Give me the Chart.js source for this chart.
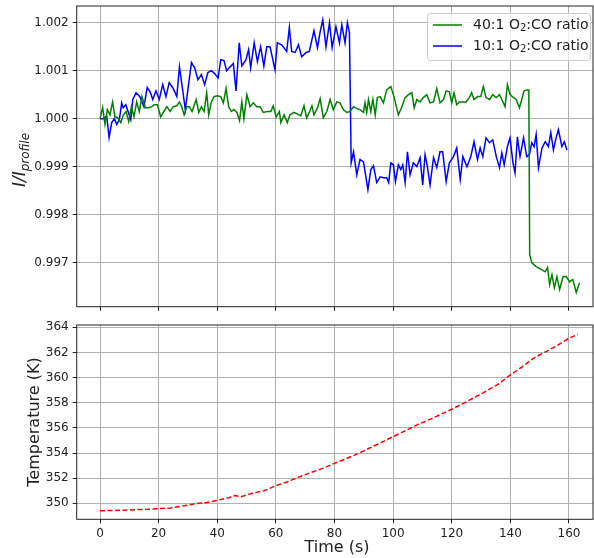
<!DOCTYPE html>
<html>
<head>
<meta charset="utf-8">
<script src="https://cdn.jsdelivr.net/npm/chart.js@4/dist/chart.umd.min.js"></script>
<style>
  body { margin: 0; background: #fff; }
  #wrap { position: relative; width: 594px; height: 558px; }
  canvas { position: absolute; left: 0; }
</style>
</head>
<body>
<div id="wrap">
  <canvas id="top-chart" width="594" height="320" style="top:0"></canvas>
  <canvas id="temp-chart" width="594" height="238" style="top:320px"></canvas>
</div>
<script>
// x ticks shared by both panels
const xTicks = [0, 20, 40, 60, 80, 100, 120, 140, 160];
const ratioTicks = [0.997, 0.998, 0.999, 1.000, 1.001, 1.002];
const tempTicks = [350, 352, 354, 356, 358, 360, 362, 364];

// 40:1 O2:CO ratio (green)
const greenTime = [0, 0.9, 1.7, 2.5, 3.4, 4.3, 5.1, 6, 7.1, 8, 8.9, 9.8, 10.7, 11.6, 12.5, 13.4, 14.3, 15.5, 16.6, 17.7,
  18.4, 19.6, 20.7, 21.8, 22.8, 23.9, 25, 26.2, 27.1, 27.9, 28.7, 29.6, 30.5, 31.4, 32.8, 33.7, 34.6, 35.5, 36.4, 37.1,
  38, 38.9, 40, 41.2, 42.1, 43, 43.9, 44.8, 45.7, 46.7, 47.6, 48.4, 49.1, 50.1, 51.2, 52.3, 53.5, 54.6, 55.7, 57.1,
  58.3, 59.1, 60.1, 61.2, 61.7, 62.8, 63.9, 64.8, 66.2, 67.3, 68.5, 69.6, 70.5, 71.4, 72.3, 73, 74.2, 75.1, 76.2, 77.4,
  78.5, 79.6, 80.8, 81.9, 83, 84.2, 85.3, 86.5, 87.6, 88.7, 89.9, 90.4, 91, 91.6, 92.4, 93.1, 93.9, 94.6, 95.6, 96.7,
  97.8, 99.2, 100.3, 101.8, 103, 104.1, 105.2, 106.4, 107.2, 108.1, 109.2, 110.3, 111.5, 112.6, 113.8, 114.9, 116, 117.2, 118.1, 119.2,
  120, 120.8, 121.7, 122.6, 123.8, 124.9, 126, 126.8, 127.6, 128.8, 129.9, 130.8, 131.7, 132.9, 134, 135.2, 136.3, 137.1, 138.2, 139,
  139.9, 141.1, 142, 143.1, 143.9, 144.7, 145.6, 146.3, 146.6, 147.3, 148.8, 150.8, 151.9, 152.7, 153.4, 154.2, 155, 155.9, 156.8, 158,
  159.1, 160.2, 161.3, 162.5, 163.6];
const greenValues = [1.00000, 1.00023, 0.99988, 1.00019, 1.00008, 1.00035, 1.00004, 1.00002, 0.99992, 1.00008, 1.00015, 0.99994, 1.00025, 1.00004, 1.00035, 1.00015, 1.00046, 1.00023, 1.00023, 1.00025,
  1.00029, 1.00029, 1.00004, 1.00015, 1.00025, 1.00015, 1.00025, 1.00027, 1.00035, 1.00025, 1.00008, 1.00025, 1.00025, 1.00015, 1.00040, 1.00013, 1.00025, 1.00015, 1.00054, 1.00008,
  1.00035, 1.00046, 1.00048, 1.00046, 1.00033, 1.00063, 1.00025, 1.00015, 1.00019, 1.00013, 0.99996, 1.00035, 1.00000, 1.00050, 1.00025, 1.00033, 1.00025, 1.00025, 1.00013, 1.00015,
  1.00015, 1.00027, 1.00004, 1.00015, 0.99992, 1.00008, 0.99992, 1.00008, 1.00013, 1.00010, 1.00006, 1.00027, 1.00002, 1.00013, 1.00027, 1.00008, 1.00023, 1.00042, 1.00002, 1.00015,
  1.00040, 1.00019, 1.00035, 1.00033, 1.00019, 1.00013, 1.00015, 1.00025, 1.00021, 1.00019, 1.00013, 1.00033, 1.00013, 1.00040, 1.00015, 1.00040, 1.00008, 1.00044, 1.00046, 1.00033,
  1.00060, 1.00067, 1.00046, 1.00008, 1.00025, 1.00044, 1.00050, 1.00054, 1.00023, 1.00040, 1.00035, 1.00044, 1.00050, 1.00033, 1.00035, 1.00063, 1.00033, 1.00040, 1.00058, 1.00056,
  1.00033, 1.00054, 1.00029, 1.00035, 1.00035, 1.00035, 1.00044, 1.00054, 1.00040, 1.00046, 1.00046, 1.00067, 1.00044, 1.00040, 1.00050, 1.00044, 1.00050, 1.00040, 1.00025, 1.00071,
  1.00050, 1.00044, 1.00040, 1.00023, 1.00040, 1.00058, 1.00060, 1.00060, 0.99717, 0.99700, 0.99692, 0.99685, 0.99681, 0.99690, 0.99654, 0.99675, 0.99648, 0.99671, 0.99644, 0.99671,
  0.99671, 0.99660, 0.99665, 0.99638, 0.99658];

// 10:1 O2:CO ratio (blue)
const blueTime = [0, 1.1, 2.3, 3.1, 4, 4.9, 5.7, 6.6, 7.4, 7.9, 8.8, 9.7, 10.5, 11.2, 12.3, 13.6, 15, 16.1, 17.1, 18,
  19.1, 20.2, 21.4, 22.5, 23.6, 24.8, 26.2, 27.1, 28.2, 29.1, 30.3, 31.2, 32.3, 33.4, 34.6, 35.7, 36.8, 38, 39.1, 40.3,
  41.2, 42.3, 43.2, 44.4, 45.5, 46.4, 47.5, 48.4, 49.8, 50.7, 51.4, 52.6, 53.7, 54.8, 55.9, 56.9, 58, 59.7, 60.5, 62,
  63.7, 64.6, 65.4, 66.6, 67.7, 68.8, 70.3, 71.4, 73, 74.2, 75.1, 76, 77.1, 78.3, 79.2, 80.5, 81.7, 82.5, 83.6, 84.4,
  85.1, 85.7, 86.5, 87.6, 88.7, 89.9, 91.4, 92.4, 93.3, 94.4, 95.6, 96.7, 97.8, 98.5, 99.2, 100.1, 100.8, 101.8, 102.6, 103.3,
  104.1, 104.9, 105.8, 106.9, 108.1, 109.2, 110.1, 110.9, 111.7, 112.6, 113.8, 114.9, 116, 116.9, 118.1, 119.2, 120.6, 121.7, 122.9, 123.8,
  125.2, 126.5, 127.6, 128.8, 129.7, 130.6, 131.7, 132.9, 134, 135.2, 136.3, 137.1, 137.9, 139, 139.9, 140.9, 141.6, 142.4, 143.3, 144.5,
  145.6, 146.5, 147.3, 148.1, 148.8, 149.6, 150.8, 151.9, 153, 153.8, 154.7, 155.6, 156.4, 157.6, 158.4, 159.3];
const blueValues = [1.00000, 1.00000, 1.00005, 0.99961, 0.99992, 1.00000, 0.99988, 0.99998, 1.00033, 1.00023, 1.00029, 1.00013, 0.99998, 1.00040, 1.00054, 1.00046, 1.00025, 1.00065, 1.00056, 1.00040,
  1.00058, 1.00040, 1.00071, 1.00046, 1.00075, 1.00065, 1.00046, 1.00108, 1.00060, 1.00019, 1.00075, 1.00117, 1.00106, 1.00081, 1.00092, 1.00071, 1.00096, 1.00100, 1.00094, 1.00085,
  1.00123, 1.00121, 1.00100, 1.00108, 1.00115, 1.00058, 1.00158, 1.00110, 1.00123, 1.00144, 1.00106, 1.00158, 1.00119, 1.00150, 1.00110, 1.00150, 1.00150, 1.00102, 1.00158, 1.00154,
  1.00140, 1.00190, 1.00140, 1.00138, 1.00154, 1.00129, 1.00138, 1.00140, 1.00183, 1.00148, 1.00181, 1.00206, 1.00150, 1.00200, 1.00148, 1.00192, 1.00158, 1.00196, 1.00158, 1.00200,
  1.00179, 0.99908, 0.99931, 0.99883, 0.99915, 0.99910, 0.99852, 0.99894, 0.99902, 0.99867, 0.99879, 0.99877, 0.99877, 0.99867, 0.99908, 0.99904, 0.99869, 0.99904, 0.99894, 0.99904,
  0.99867, 0.99931, 0.99883, 0.99908, 0.99900, 0.99919, 0.99862, 0.99925, 0.99900, 0.99862, 0.99919, 0.99898, 0.99931, 0.99931, 0.99869, 0.99908, 0.99921, 0.99939, 0.99873, 0.99921,
  0.99900, 0.99921, 0.99952, 0.99915, 0.99939, 0.99921, 0.99960, 0.99950, 0.99956, 0.99921, 0.99898, 0.99929, 0.99904, 0.99942, 0.99960, 0.99908, 0.99887, 0.99962, 0.99921, 0.99960,
  0.99921, 0.99925, 0.99950, 0.99942, 0.99967, 0.99898, 0.99939, 0.99952, 0.99942, 0.99971, 0.99935, 0.99960, 0.99977, 0.99942, 0.99952, 0.99935];

// temperature (red dashed)
const tempTime = [0, 4, 8, 12, 16, 20, 24, 28, 32, 36, 40, 44, 46, 48, 52, 56, 60, 64, 68, 72,
  76, 80, 84, 88, 92, 96, 100, 104, 108, 112, 116, 120, 124, 128, 132, 136, 140, 144, 148, 152, 156, 160, 163];
const tempValues = [349.41, 349.43, 349.45, 349.50, 349.52, 349.58, 349.62, 349.78, 349.95, 350.05, 350.24, 350.45, 350.62, 350.52, 350.80, 351.00, 351.40, 351.72, 352.10, 352.45,
  352.78, 353.18, 353.55, 353.95, 354.40, 354.85, 355.30, 355.75, 356.22, 356.62, 357.05, 357.48, 357.95, 358.45, 358.95, 359.50, 360.21, 360.85, 361.55, 362.05, 362.55, 363.13, 363.44];

const pts = (xs, ys) => xs.map((x, i) => ({ x: x, y: ys[i] }));

const FONT = 'DejaVu Sans';
const GRID = '#b0b0b0';
const INK = '#222';

// frame, axis titles and legend drawn by hand (sub-scripts)
const framePlugin = {
    id: 'frame',
    afterDraw(chart) {
        const a = chart.chartArea, ctx = chart.ctx;
        ctx.save();
        ctx.strokeStyle = INK;
        ctx.lineWidth = 1;
        ctx.strokeRect(a.left, a.top, a.right - a.left, a.bottom - a.top);
        ctx.restore();
    }
};

function subText(ctx, parts) {
    let w = 0;
    parts.forEach(p => { ctx.font = p[1]; w += ctx.measureText(p[0]).width; });
    return w;
}

const topDecor = {
    id: 'topDecor',
    afterDraw(chart) {
        const ctx = chart.ctx;
        ctx.save();
        // y title I/I_profile
        const parts = [['I/I', 'italic 17px ' + FONT, 0], ['profile', 'italic 12px ' + FONT, 4]];
        const w = subText(ctx, parts);
        ctx.translate(25, 160);
        ctx.rotate(-Math.PI / 2);
        ctx.fillStyle = INK;
        ctx.textBaseline = 'alphabetic';
        ctx.textAlign = 'left';
        let x = -w / 2;
        parts.forEach(p => { ctx.font = p[1]; ctx.fillText(p[0], x, p[2]); x += ctx.measureText(p[0]).width; });
        ctx.restore();

        // legend
        ctx.save();
        ctx.beginPath();
        ctx.roundRect(427.5, 13.5, 163, 47, 3);
        ctx.fillStyle = 'rgba(255,255,255,0.8)';
        ctx.fill();
        ctx.strokeStyle = '#cccccc';
        ctx.lineWidth = 1;
        ctx.stroke();
        chart.data.datasets.forEach((ds, i) => {
            const y = 25 + i * 21;
            ctx.strokeStyle = ds.borderColor;
            ctx.lineWidth = 1.5;
            ctx.beginPath();
            ctx.moveTo(433, y);
            ctx.lineTo(462, y);
            ctx.stroke();
            const lp = [[ds.label.split('|')[0], '14px ' + FONT, 0], ['2', '10px ' + FONT, 3], [ds.label.split('|')[1], '14px ' + FONT, 0]];
            ctx.fillStyle = INK;
            ctx.textBaseline = 'middle';
            let lx = 473;
            lp.forEach(p => { ctx.font = p[1]; ctx.fillText(p[0], lx, y + p[2]); lx += ctx.measureText(p[0]).width; });
        });
        ctx.restore();
    }
};

const bottomDecor = {
    id: 'bottomDecor',
    afterDraw(chart) {
        const ctx = chart.ctx;
        ctx.save();
        ctx.fillStyle = INK;
        ctx.font = '16px ' + FONT;
        ctx.textAlign = 'center';
        ctx.textBaseline = 'alphabetic';
        ctx.fillText('Time (s)', 337, 552 - 320);
        ctx.translate(38.5, 422 - 320);
        ctx.rotate(-Math.PI / 2);
        ctx.fillText('Temperature (K)', 0, 0);
        ctx.restore();
    }
};

function panel(canvasId, datasets, yTicks, yMin, yMax, fmt, xHeight, padTop, showX, plugins) {
    return new Chart(document.getElementById(canvasId), {
        type: 'line',
        data: { datasets: datasets },
        options: {
            responsive: false,
            animation: false,
            devicePixelRatio: 1,
            layout: { padding: { top: padTop, right: 1, left: 0, bottom: 0 } },
            plugins: { legend: { display: false }, tooltip: { enabled: false } },
            elements: { point: { radius: 0 }, line: { tension: 0 } },
            scales: {
                x: {
                    type: 'linear',
                    min: -7.95,
                    max: 168.2,
                    afterBuildTicks: s => { s.ticks = xTicks.map(v => ({ value: v })); },
                    afterFit: s => { s.height = xHeight; s.paddingLeft = 0; s.paddingRight = 0; },
                    ticks: { display: showX, color: INK, font: { family: FONT, size: 12 }, padding: 3, maxRotation: 0 },
                    grid: { color: GRID, lineWidth: 1, tickColor: INK, tickLength: 4 },
                    border: { display: false }
                },
                y: {
                    min: yMin,
                    max: yMax,
                    afterBuildTicks: s => { s.ticks = yTicks.map(v => ({ value: v })); },
                    afterFit: s => { s.width = 76.7; s.paddingTop = 0; s.paddingBottom = 0; },
                    ticks: { color: INK, font: { family: FONT, size: 12 }, padding: 4, callback: fmt },
                    grid: { color: GRID, lineWidth: 1, tickColor: INK, tickLength: 4 },
                    border: { display: false }
                }
            }
        },
        plugins: plugins
    });
}

panel('top-chart', [
    { label: '40:1 O|:CO ratio', data: pts(greenTime, greenValues), borderColor: '#008000', borderWidth: 1.5 },
    { label: '10:1 O|:CO ratio', data: pts(blueTime, blueValues), borderColor: '#0000ff', borderWidth: 1.5 }
], ratioTicks, 0.996083, 1.002348, v => v.toFixed(3), 13.3, 6, false, [framePlugin, topDecor]);

panel('temp-chart', [
    { label: 'Temperature', data: pts(tempTime, tempValues), borderColor: '#ff0000', borderWidth: 1.5, borderDash: [5, 2.5] }
], tempTicks, 348.73, 364.18, v => v.toFixed(0), 38.7, 5, true, [framePlugin, bottomDecor]);
</script>
</body>
</html>
